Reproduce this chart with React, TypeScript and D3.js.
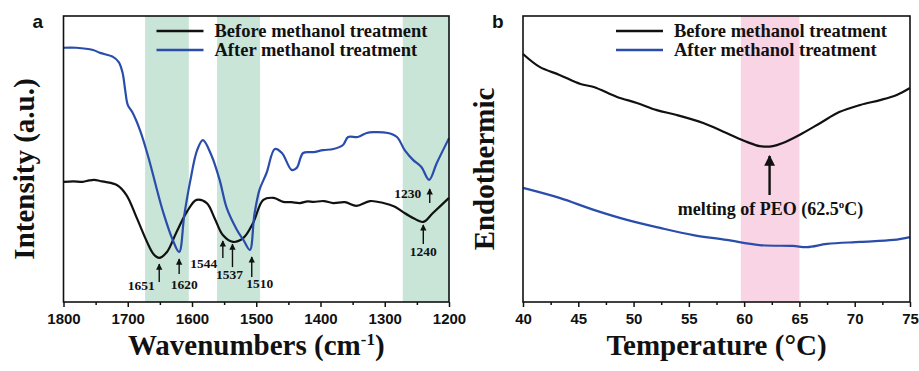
import { useEffect, useRef } from "react";
import * as d3 from "d3";

// ---- panel a: FTIR ----
const wnMajor = [1800, 1700, 1600, 1500, 1400, 1300, 1200];
const wnMinor = [1750, 1650, 1550, 1450, 1350, 1250];
const ftirBands: [number, number][] = [
  [1673, 1605],
  [1561, 1494],
  [1272, 1200],
];
// [wavenumber, intensity (a.u.)]
const beforeFtir: [number, number][] = [
  [1800, 42.0], [1785, 42.2], [1770, 42.0], [1760, 42.5], [1752, 42.7], [1743, 42.3],
  [1735, 42.0], [1717, 40.9], [1702, 37.4], [1686, 29.4], [1670, 21.0], [1660, 16.8],
  [1651, 15.4], [1639, 17.5], [1624, 24.5], [1608, 31.5], [1593, 35.7], [1577, 34.6],
  [1565, 29.4], [1552, 23.4], [1536, 21.0], [1520, 22.4], [1505, 27.6], [1489, 35.7],
  [1473, 36.4], [1458, 35.0], [1445, 34.9], [1432, 34.6], [1420, 35.2], [1411, 35.0],
  [1395, 35.3], [1380, 34.6], [1362, 34.9], [1344, 33.6], [1323, 35.3], [1302, 34.6],
  [1285, 33.4], [1272, 31.5], [1256, 29.4], [1240, 28.0], [1225, 31.1], [1200, 36.4],
];
const afterFtir: [number, number][] = [
  [1800, 88.9], [1780, 88.9], [1754, 88.1], [1743, 87.1], [1723, 85.7], [1714, 83.9],
  [1708, 80.1], [1704, 74.1], [1700, 68.9], [1693, 66.4], [1681, 60.1], [1668, 50.7],
  [1656, 40.5], [1645, 31.5], [1630, 21.7], [1620, 17.5], [1612, 30.4], [1603, 42.0],
  [1592, 53.1], [1583, 56.6], [1570, 51.4], [1557, 42.7], [1546, 32.9], [1530, 25.2],
  [1520, 21.7], [1510, 18.2], [1503, 30.4], [1495, 39.2], [1484, 45.1], [1471, 53.5],
  [1460, 52.1], [1445, 46.2], [1437, 46.9], [1427, 52.1], [1411, 52.4], [1396, 53.1],
  [1380, 53.5], [1365, 54.9], [1357, 57.7], [1342, 57.7], [1328, 59.1], [1318, 59.4],
  [1295, 59.1], [1281, 57.7], [1269, 53.1], [1256, 49.7], [1243, 47.2], [1231, 42.7],
  [1219, 48.6], [1200, 57.3],
];
const peakLabels = ["1651", "1620", "1544", "1537", "1510", "1240", "1230"];
const peakPositions = [1651, 1620, 1552, 1537, 1507, 1240, 1230];
const peakTips = [13.6, 15.4, 21.7, 20.6, 16.1, 27.3, 39.9];

// ---- panel b: DSC ----
const tMajor = [40, 45, 50, 55, 60, 65, 70, 75];
const tMinor = [42.5, 47.5, 52.5, 57.5, 62.5, 67.5, 72.5];
const dscBand: [number, number] = [59.7, 65];
// [temperature °C, heat flow (a.u.)]
const beforeDsc: [number, number][] = [
  [40, 86.7], [41.5, 82.2], [43.3, 79.4], [45.2, 76.2], [46.4, 75.2], [48.5, 71.7],
  [50.3, 69.6], [52.1, 67.1], [53.9, 65.4], [56.3, 62.6], [58.4, 59.1], [60.3, 55.9],
  [61.4, 54.5], [62.6, 54.5], [63.5, 55.6], [65, 58.4], [66.9, 62.6], [68.6, 66.4],
  [70.5, 68.9], [72.3, 70.6], [73.8, 72.4], [75, 74.8],
];
const afterDsc: [number, number][] = [
  [40, 39.9], [43.3, 36.4], [46.4, 32.2], [49.4, 28.7], [52.4, 25.9], [55.4, 23.4],
  [58.4, 21.7], [61.4, 19.9], [64.4, 19.6], [65.7, 19.2], [67.5, 20.3], [70.5, 21.0],
  [73.5, 21.7], [75, 22.7],
];
const meltPeak = 62.3;

const seriesNames = ["Before methanol treatment", "After methanol treatment"];
const seriesColors = ["#111111", "#2a4cab"];

const SERIF = "'Liberation Serif', 'Times New Roman', serif";
const SANS = "'Liberation Sans', Arial, sans-serif";

export default function App() {
  const svgRef = useRef<SVGSVGElement>(null);

  useEffect(() => {
    if (!svgRef.current) return;
    const svg = d3.select(svgRef.current);
    svg.selectAll("*").remove();

    const top = 16;
    const bottom = 302;

    const defs = svg.append("defs");
    defs
      .append("marker")
      .attr("id", "arrowhead")
      .attr("viewBox", "0 0 10 10")
      .attr("refX", 9)
      .attr("refY", 5)
      .attr("markerWidth", 4.5)
      .attr("markerHeight", 5)
      .attr("markerUnits", "strokeWidth")
      .attr("orient", "auto")
      .append("path")
      .attr("d", "M0,0 L10,5 L0,10 Z")
      .attr("fill", "#111");

    const drawPanel = (opts: {
      left: number;
      right: number;
      x: d3.ScaleLinear<number, number>;
      major: number[];
      minor: number[];
      bands: [number, number][];
      bandColor: string;
      series: [number, number][][];
      letter: string;
      xTitle: (t: d3.Selection<SVGTextElement, unknown, null, undefined>) => void;
      yTitle: string;
      yTitleX: number;
    }) => {
      const { left, right, x } = opts;
      const y = d3.scaleLinear().domain([0, 100]).range([bottom, top]);
      const g = svg.append("g");

      g.selectAll(".band")
        .data(opts.bands)
        .join("rect")
        .attr("x", (d) => Math.min(x(d[0]), x(d[1])))
        .attr("y", top)
        .attr("width", (d) => Math.abs(x(d[1]) - x(d[0])))
        .attr("height", bottom - top)
        .attr("fill", opts.bandColor);

      const line = d3
        .line<[number, number]>()
        .x((d) => x(d[0]))
        .y((d) => y(d[1]))
        .curve(d3.curveCatmullRom.alpha(0.5));

      g.selectAll(".series")
        .data(opts.series)
        .join("path")
        .attr("d", (d) => line(d))
        .attr("fill", "none")
        .attr("stroke", (_, i) => seriesColors[i])
        .attr("stroke-width", 2.2);

      // frame
      g.append("rect")
        .attr("x", left)
        .attr("y", top)
        .attr("width", right - left)
        .attr("height", bottom - top)
        .attr("fill", "none")
        .attr("stroke", "#111")
        .attr("stroke-width", 1.6);

      // x axis
      const ax = g.append("g").attr("transform", `translate(0,${bottom})`);
      ax.call(d3.axisBottom(x).tickValues(opts.major).tickSize(5).tickPadding(6).tickSizeOuter(0).tickFormat(d3.format("d")));
      ax.append("g").call(d3.axisBottom(x).tickValues(opts.minor).tickSize(3).tickSizeOuter(0).tickFormat(() => ""));
      ax.selectAll(".domain").remove();
      ax.selectAll("line").attr("stroke", "#111").attr("stroke-width", 1.5);
      ax.selectAll("text")
        .attr("fill", "#111")
        .attr("font-family", SANS)
        .attr("font-weight", "bold")
        .attr("font-size", 15);

      // legend
      seriesNames.forEach((name, i) => {
        const ly = 31 + i * 19;
        g.append("line")
          .attr("x1", left + 93)
          .attr("x2", left + 140)
          .attr("y1", ly)
          .attr("y2", ly)
          .attr("stroke", seriesColors[i])
          .attr("stroke-width", 2.5);
        g.append("text")
          .attr("x", left + 151)
          .attr("y", ly + 5.5)
          .attr("font-family", SERIF)
          .attr("font-weight", "bold")
          .attr("font-size", 18.5)
          .attr("fill", "#111")
          .text(name);
      });

      // panel letter
      g.append("text")
        .attr("x", left - 31)
        .attr("y", 28)
        .attr("font-family", SANS)
        .attr("font-weight", "bold")
        .attr("font-size", 19)
        .attr("fill", "#111")
        .text(opts.letter);

      // axis titles
      const xt = g
        .append("text")
        .attr("x", (left + right) / 2)
        .attr("y", 355)
        .attr("text-anchor", "middle")
        .attr("font-family", SERIF)
        .attr("font-weight", "bold")
        .attr("font-size", 29)
        .attr("fill", "#111");
      opts.xTitle(xt);

      g.append("text")
        .attr("transform", `translate(${opts.yTitleX},${(top + bottom) / 2 + 10}) rotate(-90)`)
        .attr("text-anchor", "middle")
        .attr("font-family", SERIF)
        .attr("font-weight", "bold")
        .attr("font-size", 29)
        .attr("fill", "#111")
        .text(opts.yTitle);

      return { g, y };
    };

    // ---- panel a ----
    const xa = d3.scaleLinear().domain([1800, 1200]).range([63.5, 449]);
    const pa = drawPanel({
      left: 63.5,
      right: 449,
      x: xa,
      major: wnMajor,
      minor: wnMinor,
      bands: ftirBands,
      bandColor: "#c8e5d7",
      series: [beforeFtir, afterFtir],
      letter: "a",
      xTitle: (t) => {
        t.append("tspan").text("Wavenumbers (cm");
        t.append("tspan").attr("font-size", 17).attr("dy", -10).text("-1");
        t.append("tspan").attr("dy", 10).text(")");
      },
      yTitle: "Intensity (a.u.)",
      yTitleX: 34,
    });

    // arrow length, label dx, label dy (from arrow tail)
    const peakLayout = [
      [19, -18, 8],
      [16, 5, 15],
      [18, -19, 10],
      [24, -3, 12],
      [21, 8, 11],
      [20, 0, 12],
      [15, -22, -5],
    ];
    peakLabels.forEach((label, i) => {
      const px = xa(peakPositions[i]);
      const tip = pa.y(peakTips[i]);
      const [len, dx, dy] = peakLayout[i];
      pa.g
        .append("line")
        .attr("x1", px)
        .attr("x2", px)
        .attr("y1", tip + len)
        .attr("y2", tip + 1)
        .attr("stroke", "#111")
        .attr("stroke-width", 1.4)
        .attr("marker-end", "url(#arrowhead)");
      pa.g
        .append("text")
        .attr("x", px + dx)
        .attr("y", tip + len + dy)
        .attr("text-anchor", "middle")
        .attr("font-family", SERIF)
        .attr("font-weight", "bold")
        .attr("font-size", 13.5)
        .attr("fill", "#111")
        .text(label);
    });

    // ---- panel b ----
    const xb = d3.scaleLinear().domain([40, 75]).range([523, 910]);
    const pb = drawPanel({
      left: 523,
      right: 910,
      x: xb,
      major: tMajor,
      minor: tMinor,
      bands: [dscBand],
      bandColor: "#f8d4e5",
      series: [beforeDsc, afterDsc],
      letter: "b",
      xTitle: (t) => {
        t.text("Temperature (°C)");
      },
      yTitle: "Endothermic",
      yTitleX: 494,
    });

    const mx = xb(meltPeak);
    const mTip = pb.y(51.4);
    pb.g
      .append("line")
      .attr("x1", mx)
      .attr("x2", mx)
      .attr("y1", mTip + 40)
      .attr("y2", mTip + 1)
      .attr("stroke", "#111")
      .attr("stroke-width", 2.4)
      .attr("marker-end", "url(#arrowhead)");
    const mt = pb.g
      .append("text")
      .attr("x", mx + 1)
      .attr("y", mTip + 60)
      .attr("text-anchor", "middle")
      .attr("font-family", SERIF)
      .attr("font-weight", "bold")
      .attr("font-size", 18)
      .attr("fill", "#111");
    mt.append("tspan").text("melting of PEO (62.5");
    mt.append("tspan").attr("font-size", 11).attr("dy", -7).text("o");
    mt.append("tspan").attr("dy", 7).text("C)");
  }, []);

  return (
    <svg
      ref={svgRef}
      width={919}
      height={371}
      style={{ position: "absolute", left: 0, top: 0, background: "#fff" }}
      role="img"
      aria-label="FTIR spectra and DSC curves before and after methanol treatment"
    />
  );
}
